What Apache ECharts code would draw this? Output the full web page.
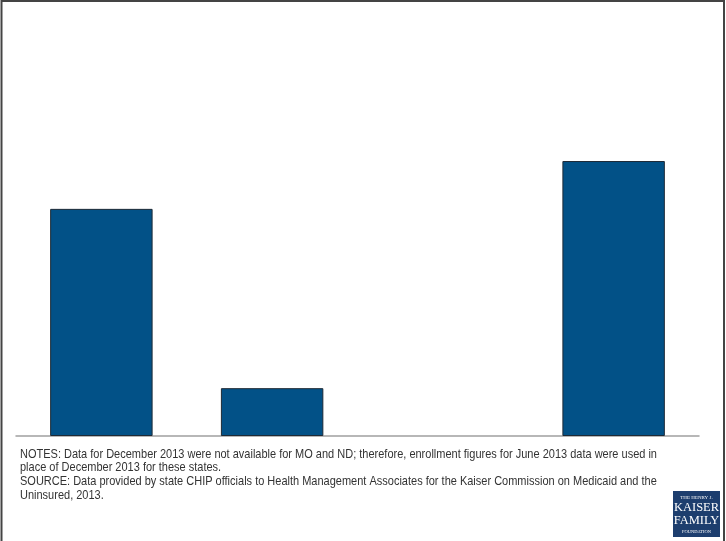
<!DOCTYPE html>
<html><head><meta charset="utf-8">
<script src="https://cdn.jsdelivr.net/npm/echarts@6/dist/echarts.min.js"></script>
<style>html,body{margin:0;padding:0;background:#fff}#c{width:726px;height:541px}</style>
</head><body><div id="c"></div>
<script>
const categories = ['A', 'B', 'C', 'D'];
const values = [54.6, 11.5, null, 66.1];
const notes = [
  'NOTES: Data for December 2013 were not available for MO and ND; therefore, enrollment figures for June 2013 data were used in',
  'place of December 2013 for these states.',
  'SOURCE: Data provided by state CHIP officials to Health Management Associates for the Kaiser Commission on Medicaid and the',
  'Uninsured, 2013.'
];
const logoLines = ['THE HENRY J.', 'KAISER', 'FAMILY', 'FOUNDATION'];

const chart = echarts.init(document.getElementById('c'), null, {renderer: 'canvas'});
const textFont = '"Liberation Sans", Arial, sans-serif';
chart.setOption({
  animation: false,
  grid: {left: 16, right: 27, top: 20, bottom: 105},
  xAxis: {
    type: 'category', data: categories,
    axisLine: {show: true, lineStyle: {color: '#a0a0a0', width: 1.5}},
    axisTick: {show: false}, axisLabel: {show: false}
  },
  yAxis: {
    type: 'value', min: 0, max: 100,
    axisLine: {show: false}, axisTick: {show: false}, axisLabel: {show: false},
    splitLine: {show: false}
  },
  series: [{
    type: 'bar', data: values, barWidth: '60%',
    itemStyle: {color: '#025187', borderColor: '#1e2a36', borderWidth: 1}
  }],
  graphic: [
    {type: 'polyline', shape: {points: [[1.5, 541], [1.5, 1], [724, 1], [724, 541]]}, style: {fill: 'none', stroke: '#444', lineWidth: 2}, silent: true},
    ...notes.map((t, i) => ({
      type: 'text', x: 20, y: 447.5 + i * 13.7, scaleX: 0.846, originX: 0, originY: 0,
      style: {text: t, font: '13px ' + textFont, fill: '#333'}
    })),
    {type: 'rect', shape: {x: 673, y: 491, width: 47, height: 46}, style: {fill: '#1d3e6e'}},
    {type: 'text', x: 696.5, y: 495, style: {text: logoLines[0], font: '5px "Liberation Serif", serif', fill: '#fff', align: 'center'}},
    {type: 'text', x: 696.5, y: 501, style: {text: logoLines[1], font: '12.5px "Liberation Serif", serif', fill: '#fff', align: 'center'}},
    {type: 'text', x: 696.5, y: 514, style: {text: logoLines[2], font: '12.5px "Liberation Serif", serif', fill: '#fff', align: 'center'}},
    {type: 'text', x: 696.5, y: 529, style: {text: logoLines[3], font: '4.5px "Liberation Serif", serif', fill: '#fff', align: 'center'}}
  ]
});
</script></body></html>
